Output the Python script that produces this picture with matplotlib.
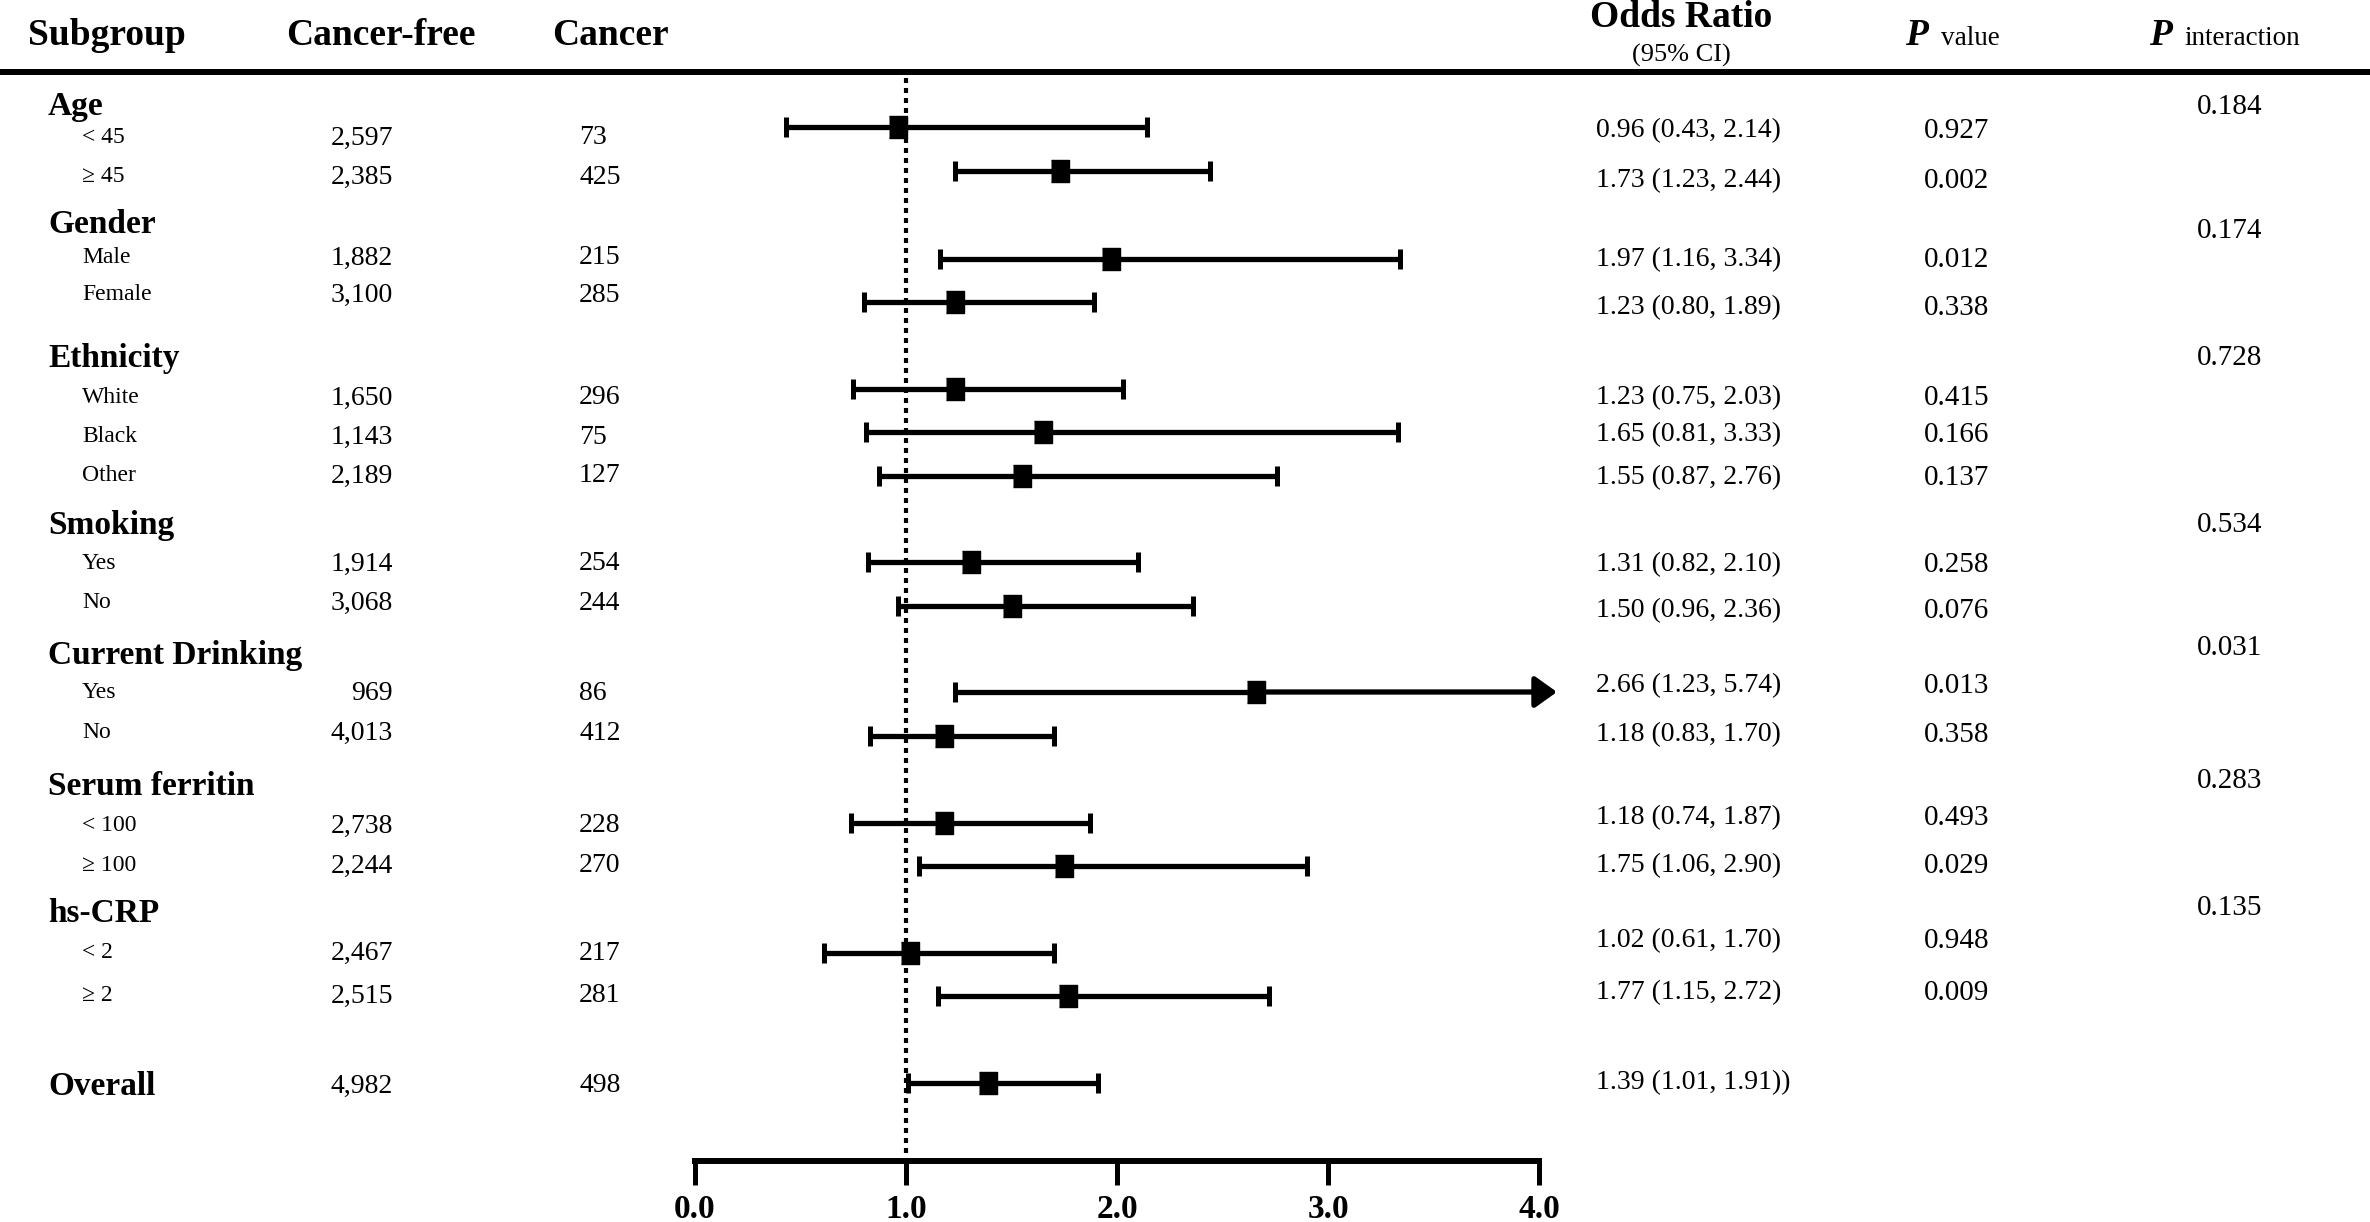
import matplotlib
matplotlib.use("Agg")
import matplotlib.pyplot as plt
from matplotlib.transforms import blended_transform_factory

plt.rcParams['font.family'] = ['Liberation Serif', 'DejaVu Serif']

# ---- data ----
groups = ["Age", "Gender", "Ethnicity", "Smoking", "Current Drinking",
          "Serum ferritin", "hs-CRP"]
p_interaction = ["0.184", "0.174", "0.728", "0.534", "0.031", "0.283", "0.135"]

labels = ["< 45", "≥ 45", "Male", "Female", "White", "Black", "Other",
          "Yes", "No", "Yes", "No", "< 100", "≥ 100", "< 2", "≥ 2", "Overall"]
cancer_free = [2597, 2385, 1882, 3100, 1650, 1143, 2189, 1914, 3068,
               969, 4013, 2738, 2244, 2467, 2515, 4982]
cancer = [73, 425, 215, 285, 296, 75, 127, 254, 244, 86, 412, 228, 270,
          217, 281, 498]
or_est = [0.96, 1.73, 1.97, 1.23, 1.23, 1.65, 1.55, 1.31, 1.50, 2.66,
          1.18, 1.18, 1.75, 1.02, 1.77, 1.39]
ci_lo = [0.43, 1.23, 1.16, 0.80, 0.75, 0.81, 0.87, 0.82, 0.96, 1.23,
         0.83, 0.74, 1.06, 0.61, 1.15, 1.01]
ci_hi = [2.14, 2.44, 3.34, 1.89, 2.03, 3.33, 2.76, 2.10, 2.36, 5.74,
         1.70, 1.87, 2.90, 1.70, 2.72, 1.91]
p_value = ["0.927", "0.002", "0.012", "0.338", "0.415", "0.166", "0.137",
           "0.258", "0.076", "0.013", "0.358", "0.493", "0.029", "0.948",
           "0.009", ""]
xticks = [0, 1, 2, 3, 4]

# ---- layout (reference pixel rows / columns) ----
W, H = 2370, 1222
group_y = [103, 221, 355, 522, 652, 783, 910]
pint_y = [104, 228, 355, 522, 645, 778, 905]
label_y = [135, 174, 255, 292, 395, 434, 473, 561, 600, 690, 730, 823, 863,
           950, 993, 1083]
ci_y = [127, 171, 259, 302, 389, 432, 476, 562, 606, 692, 736, 823, 866,
        953, 996, 1083]
text_y = [128, 178, 257, 305, 395, 432, 475, 562, 608, 683, 732, 815, 863,
          938, 990, 1080]
x0_px, px_per_unit = 695, 211
axis_y = 1161

fig = plt.figure(figsize=(W / 100, H / 100), dpi=100)
ax = fig.add_axes([0, 0, 1, 1])
ax.set_xlim(-x0_px / px_per_unit, (W - x0_px) / px_per_unit)
ax.set_ylim(H, 0)
tr = blended_transform_factory(fig.transFigure, ax.transData)


def put(xpx, y, s, **kw):
    kw.setdefault('va', 'center_baseline')
    ax.text(xpx / W, y, s, transform=tr, color='black', **kw)


# header
hdr = dict(fontsize=27, fontweight='bold', va='baseline')
put(28, 45, "Subgroup", **hdr)
put(286, 45, "Cancer-free", **hdr)
put(552, 45, "Cancer", **hdr)
put(1681, 27, "Odds Ratio", ha='center', **hdr)
put(1681, 62, "(95% CI)", ha='center', fontsize=19, va='baseline')
put(1905, 45, "P", fontsize=27, fontweight='bold', fontstyle='italic', va='baseline')
put(1941, 45, "value", fontsize=19.5, va='baseline')
put(2149, 45, "P", fontsize=27, fontweight='bold', fontstyle='italic', va='baseline')
put(2184, 45, "interaction", fontsize=19.5, va='baseline')
ax.axhline(72, color='black', lw=4.3)

# group headers and interaction p
for g, gy, p, py in zip(groups, group_y, p_interaction, pint_y):
    put(48, gy, g, fontsize=24, fontweight='bold')
    put(2197, py, p, fontsize=21)

# rows
n = len(labels)
for i in range(n):
    if labels[i] == "Overall":
        put(48, label_y[i], labels[i], fontsize=24, fontweight='bold')
    else:
        put(82, label_y[i], labels[i], fontsize=17)
    put(393, label_y[i], f"{cancer_free[i]:,}", fontsize=20, ha='right')
    put(579, label_y[i], f"{cancer[i]}", fontsize=20)
    or_txt = f"{or_est[i]:.2f} ({ci_lo[i]:.2f}, {ci_hi[i]:.2f})"
    if labels[i] == "Overall":
        or_txt += ")"
    put(1596, text_y[i], or_txt, fontsize=20)
    put(1924, text_y[i], p_value[i], fontsize=21)

# forest marks
x_max = xticks[-1]
box = [(-0.8, -1), (0.8, -1), (0.8, 1), (-0.8, 1)]
for est, lo, hi, y in zip(or_est, ci_lo, ci_hi, ci_y):
    if hi <= x_max:
        ax.errorbar(est, y, xerr=[[est - lo], [hi - est]], fmt='none',
                    ecolor='black', elinewidth=3.8, capsize=7.5, capthick=3.6,
                    zorder=3)
    else:
        # CI runs off the scale: left cap plus an arrow past the last tick
        ax.errorbar(est, y, xerr=[[est - lo], [0]], fmt='none',
                    ecolor='black', elinewidth=3.8, capsize=7.5, capthick=3.6,
                    zorder=3)
        ax.annotate('', xy=(x_max + 0.085, y), xytext=(est, y),
                    arrowprops=dict(arrowstyle='-|>,head_length=0.95,head_width=0.68',
                                    mutation_scale=14, color='black', lw=3.8,
                                    shrinkA=0, shrinkB=0), zorder=3)
ax.plot(or_est, ci_y, linestyle='none', marker=box, markersize=16,
        color='black', zorder=4)

ax.vlines(1.0, 78, axis_y, colors='black', linewidth=3,
          linestyles=(0, (1.2, 1.2)), zorder=2)

# bottom axis
for s in ['top', 'left', 'right']:
    ax.spines[s].set_visible(False)
ax.spines['bottom'].set_position(('data', axis_y))
ax.spines['bottom'].set_bounds(0, x_max)
ax.spines['bottom'].set_linewidth(4.3)
ax.set_xticks(xticks)
ax.set_xticklabels([f"{t:.1f}" for t in xticks], fontweight='bold')
ax.tick_params(axis='x', direction='out', length=17, width=3.6, pad=7,
               labelsize=24)
ax.set_yticks([])
ax.patch.set_visible(False)

fig.savefig("out.png", dpi=100, facecolor='white')
